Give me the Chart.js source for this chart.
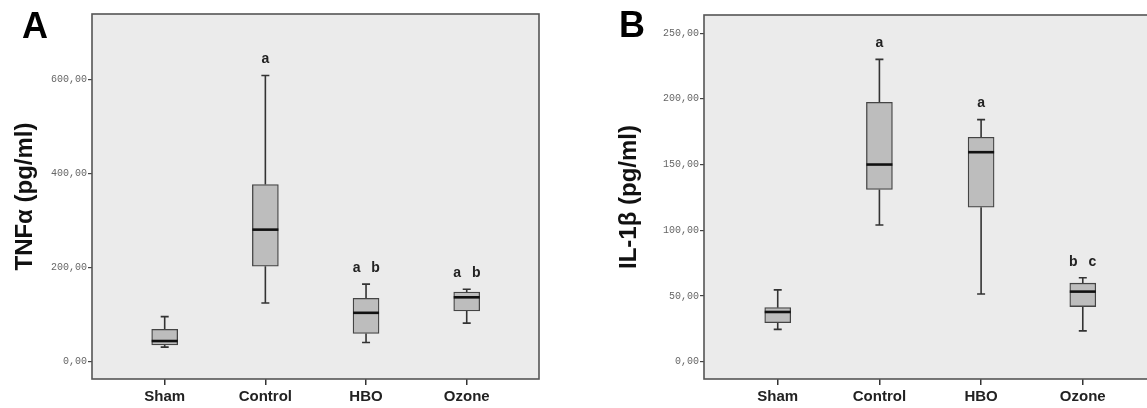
<!DOCTYPE html>
<html>
<head>
<meta charset="utf-8">
<script src="https://cdn.jsdelivr.net/npm/chart.js@4.4.1/dist/chart.umd.min.js"></script>
<style>
  html, body { margin: 0; padding: 0; background: #fff; }
  body { width: 1147px; height: 408px; overflow: hidden; position: relative; }
  #wrapA { position: absolute; left: 0; top: 0; width: 580px; height: 408px; }
  #wrapB { position: absolute; left: 580px; top: 0; width: 600px; height: 408px; }
</style>
</head>
<body>
<div id="wrapA"><canvas id="chartA" width="580" height="408"></canvas></div>
<div id="wrapB"><canvas id="chartB" width="600" height="408"></canvas></div>
<script>
// ---- data ----
const categories = ['Sham', 'Control', 'HBO', 'Ozone'];

// Panel A: TNFα (pg/ml)
const tnfMin    = [31, 125, 41, 82];
const tnfQ1     = [35.5, 203, 60, 108];
const tnfMedian = [44, 281, 104, 137];
const tnfQ3     = [69, 377, 135, 148];
const tnfMax    = [96, 609, 165, 154];
const tnfLetters = ['', 'a', 'a b', 'a b'];
const tnfTicks = [0, 200, 400, 600];

// Panel B: IL-1β (pg/ml)
const ilMin    = [24.6, 104, 51.5, 23.4];
const ilQ1     = [29.7, 131, 117.5, 41.9];
const ilMedian = [37.8, 150, 159.4, 53.3];
const ilQ3     = [41.1, 197.4, 170.8, 59.7];
const ilMax    = [54.6, 230, 184.2, 63.9];
const ilLetters = ['', 'a', 'a', 'b c'];
const ilTicks = [0, 50, 100, 150, 200, 250];

// ---- drawing helpers ----
const boxDecor = {
  id: 'boxDecor',
  beforeDraw(chart, args, o) {
    const {ctx, chartArea: a} = chart;
    ctx.save();
    ctx.fillStyle = '#ebebeb';
    ctx.fillRect(a.left, a.top, a.right - a.left, a.bottom - a.top);
    ctx.restore();
  },
  beforeDatasetsDraw(chart, args, o) {
    const {ctx} = chart;
    const xs = chart.scales.x, ys = chart.scales.y;
    ctx.save();
    ctx.strokeStyle = '#333';
    ctx.lineWidth = 1.6;
    o.q1.forEach((q1, i) => {
      const x = xs.getPixelForValue(i);
      const yMin = ys.getPixelForValue(o.min[i]);
      const yMax = ys.getPixelForValue(o.max[i]);
      const yQ1 = ys.getPixelForValue(q1);
      const yQ3 = ys.getPixelForValue(o.q3[i]);
      ctx.beginPath();
      ctx.moveTo(x, yQ3); ctx.lineTo(x, yMax);
      ctx.moveTo(x, yQ1); ctx.lineTo(x, yMin);
      ctx.moveTo(x - 4, yMax); ctx.lineTo(x + 4, yMax);
      ctx.moveTo(x - 4, yMin); ctx.lineTo(x + 4, yMin);
      ctx.stroke();
    });
    ctx.restore();
  },
  afterDatasetsDraw(chart, args, o) {
    const {ctx} = chart;
    const xs = chart.scales.x, ys = chart.scales.y;
    ctx.save();
    ctx.strokeStyle = '#111';
    ctx.lineWidth = 2.6;
    o.median.forEach((m, i) => {
      const x = xs.getPixelForValue(i);
      const y = ys.getPixelForValue(m);
      ctx.beginPath();
      ctx.moveTo(x - 13, y); ctx.lineTo(x + 13, y);
      ctx.stroke();
    });
    // significance letters
    ctx.fillStyle = '#222';
    ctx.font = 'bold 14px "Liberation Sans", Arial, sans-serif';
    ctx.textAlign = 'center';
    ctx.textBaseline = 'middle';
    o.letters.forEach((txt, i) => {
      if (!txt) return;
      const x = xs.getPixelForValue(i);
      const y = ys.getPixelForValue(o.max[i]) - 16;
      const parts = txt.split(' ');
      const gap = 19;
      parts.forEach((p, k) => {
        ctx.fillText(p, x + (k - (parts.length - 1) / 2) * gap, y);
      });
    });
    ctx.restore();
  },
  afterDraw(chart, args, o) {
    const {ctx, chartArea: a} = chart;
    ctx.save();
    ctx.strokeStyle = '#555';
    ctx.lineWidth = 1.6;
    ctx.strokeRect(a.left, a.top, a.right - a.left, a.bottom - a.top);
    ctx.fillStyle = '#000';
    ctx.font = 'bold 36px "Liberation Sans", Arial, sans-serif';
    ctx.textAlign = 'left';
    ctx.textBaseline = 'alphabetic';
    ctx.fillText(o.panel, o.panelX, o.panelY);
    ctx.restore();
  }
};

function makeChart(id, cfg) {
  return new Chart(document.getElementById(id), {
    type: 'bar',
    data: {
      datasets: [{
        data: cfg.q1.map((v, i) => ({x: i, y: [v, cfg.q3[i]]})),
        backgroundColor: '#bdbdbd',
        borderColor: '#444',
        borderWidth: 1.3,
        borderSkipped: false,
        barThickness: 26
      }]
    },
    options: {
      responsive: false,
      animation: false,
      devicePixelRatio: 1,
      layout: { padding: cfg.padding },
      plugins: {
        legend: { display: false },
        tooltip: { enabled: false },
        boxDecor: {
          q1: cfg.q1, q3: cfg.q3, min: cfg.min, max: cfg.max,
          median: cfg.median, letters: cfg.letters,
          panel: cfg.panel, panelX: cfg.panelX, panelY: cfg.panelY
        }
      },
      scales: {
        x: {
          type: 'linear',
          offset: false,
          min: cfg.xMin, max: cfg.xMax,
          afterBuildTicks: s => { s.ticks = categories.map((c, i) => ({value: i})); },
          afterFit: s => { s.height = 29; },
          border: { display: false },
          grid: { offset: false, drawOnChartArea: false, drawTicks: true, tickLength: 6, color: '#333', lineWidth: 1.5 },
          ticks: {
            padding: 3,
            color: '#222',
            font: { family: '"Liberation Sans", Arial, sans-serif', size: 15, weight: 'bold' },
            callback: v => categories[v],
            maxRotation: 0, autoSkip: false
          }
        },
        y: {
          min: cfg.yMin, max: cfg.yMax,
          afterBuildTicks: s => { s.ticks = cfg.ticks.map(v => ({value: v})); },
          afterFit: s => { s.width = cfg.yWidth; },
          border: { display: false },
          grid: { drawOnChartArea: false, drawTicks: true, tickLength: 4, color: '#444', lineWidth: 1.2 },
          ticks: {
            padding: 1,
            color: '#666',
            font: { family: '"Liberation Mono", "DejaVu Sans Mono", monospace', size: 10 },
            callback: v => v.toFixed(2).replace('.', ',')
          },
          title: {
            display: true,
            text: cfg.title,
            color: '#111',
            padding: 0,
            font: { family: '"Liberation Sans", Arial, sans-serif', size: 24, weight: 'bold' }
          }
        }
      }
    },
    plugins: [boxDecor]
  });
}

makeChart('chartA', {
  q1: tnfQ1, q3: tnfQ3, min: tnfMin, max: tnfMax, median: tnfMedian, letters: tnfLetters,
  ticks: tnfTicks, title: 'TNFα (pg/ml)',
  yMin: -36.8, yMax: 739.8, xMin: -0.722, xMax: 3.718,
  padding: { left: 11, top: 14, right: 41, bottom: 0 }, yWidth: 81,
  panel: 'A', panelX: 22, panelY: 38
});

makeChart('chartB', {
  q1: ilQ1, q3: ilQ3, min: ilMin, max: ilMax, median: ilMedian, letters: ilLetters,
  ticks: ilTicks, title: 'IL-1β (pg/ml)',
  yMin: -13.2, yMax: 263.8, xMin: -0.725, xMax: 3.72,
  padding: { left: 35, top: 15, right: 24, bottom: 0 }, yWidth: 89,
  panel: 'B', panelX: 39, panelY: 37
});
</script>
</body>
</html>
